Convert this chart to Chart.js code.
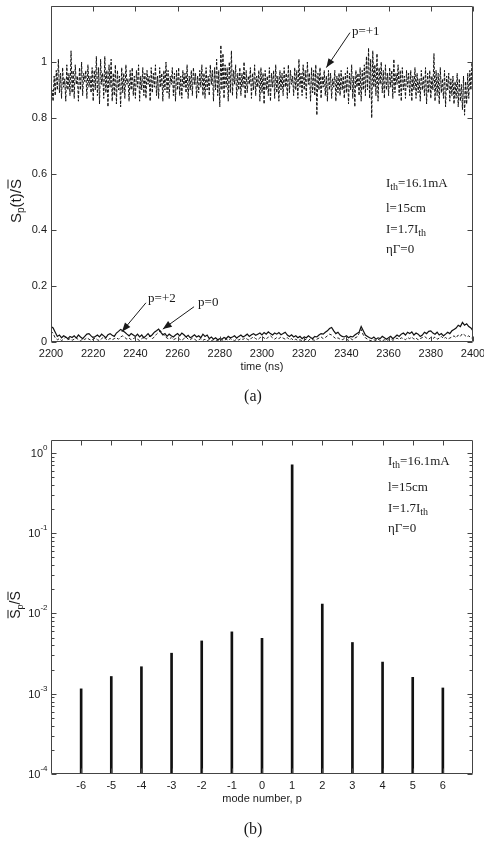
<!DOCTYPE html>
<html><head><meta charset="utf-8">
<script src="https://cdn.jsdelivr.net/npm/chart.js@4/dist/chart.umd.min.js"></script>
<style>
html,body{margin:0;padding:0;background:#fff;width:484px;height:846px;overflow:hidden}
#wa{position:absolute;left:0;top:0;width:484px;height:410px}
#wb{position:absolute;left:0;top:400px;width:484px;height:446px}
</style></head><body>
<div id="wa"><canvas id="ca"></canvas></div>
<div id="wb"><canvas id="cb"></canvas></div>
<script>
// ---------- DATA: panel (a) ----------
const timeStart = 2200;
const stepP1 = 0.5;   // ns between samples of mode p=+1
const stepLow = 1;    // ns between samples of modes p=+2 and p=0
const modeP1 = [
0.83,0.90,0.86,0.95,0.88,0.97,0.90,1.01,0.89,0.96,0.87,0.98,0.91,0.94,0.86,0.99,0.90,0.96,0.88,1.04,
0.89,0.97,0.87,0.99,0.92,0.95,0.86,0.98,0.90,1.00,0.88,0.96,0.93,0.97,0.87,0.99,0.91,0.95,0.89,0.98,
0.86,0.97,0.90,1.02,0.88,0.98,0.85,1.01,0.92,0.96,0.87,1.02,0.89,0.97,0.84,0.99,0.91,1.01,0.86,0.96,
0.88,0.99,0.85,0.97,0.90,0.95,0.84,0.98,0.89,0.96,0.87,0.99,0.92,0.94,0.86,0.97,0.90,0.98,0.88,0.95,
0.87,0.97,0.91,0.99,0.86,0.95,0.90,0.98,0.88,0.96,0.87,0.97,0.92,0.95,0.86,0.98,0.89,0.96,0.91,0.99,
0.88,0.95,0.87,0.98,0.91,0.96,0.86,0.97,0.90,1.00,0.89,0.97,0.87,0.95,0.92,0.98,0.88,0.96,0.86,0.97,
0.90,0.98,0.88,0.95,0.87,0.97,0.91,0.96,0.89,0.99,0.87,0.95,0.90,0.97,0.88,0.98,0.92,0.96,0.87,0.95,
0.89,0.97,0.91,0.99,0.88,0.96,0.87,0.98,0.90,0.95,0.88,0.99,0.92,0.97,0.86,0.98,0.90,1.01,0.88,0.97,
0.84,1.06,0.90,1.03,0.87,0.99,0.91,0.98,0.86,1.00,0.89,1.04,0.88,0.97,0.92,0.99,0.87,0.96,0.90,0.98,
0.88,0.96,0.91,1.00,0.87,0.97,0.89,0.95,0.92,0.98,0.87,0.96,0.90,0.99,0.88,0.95,0.91,0.97,0.86,0.98,
0.89,0.96,0.85,0.97,0.90,0.95,0.88,0.98,0.86,0.96,0.91,0.97,0.87,0.99,0.89,0.95,0.86,0.97,0.90,0.96,
0.88,0.98,0.91,0.96,0.87,0.99,0.89,0.97,0.92,0.95,0.88,0.98,0.90,0.97,0.87,1.01,0.91,0.96,0.88,0.99,
0.90,0.97,0.87,1.00,0.92,0.96,0.86,0.98,0.89,0.97,0.88,0.99,0.81,0.96,0.90,0.98,0.87,0.95,0.91,0.97,
0.88,0.95,0.86,0.97,0.90,0.96,0.87,0.94,0.91,0.97,0.86,0.95,0.89,0.96,0.88,0.97,0.90,0.95,0.87,0.96,
0.89,0.98,0.85,0.96,0.90,0.99,0.87,0.95,0.84,0.97,0.91,0.96,0.88,0.98,0.86,0.97,0.90,0.99,0.88,1.02,
0.90,1.05,0.87,1.01,0.80,1.04,0.91,0.99,0.88,1.03,0.86,0.98,0.92,1.00,0.89,0.97,0.87,0.99,0.90,0.96,
0.88,0.98,0.91,0.97,0.87,1.01,0.89,0.96,0.92,0.99,0.88,0.97,0.86,0.98,0.90,0.95,0.87,0.97,0.91,0.96,
0.88,0.97,0.86,0.95,0.90,0.98,0.87,0.96,0.89,0.94,0.86,0.97,0.90,0.95,0.88,0.98,0.85,0.96,0.89,0.97,
0.87,0.95,0.90,1.03,0.86,0.97,0.88,0.96,0.85,0.98,0.89,0.94,0.87,0.97,0.84,0.95,0.90,0.96,0.86,0.94,
0.88,0.95,0.85,0.93,0.87,0.96,0.84,0.94,0.86,0.92,0.83,0.95,0.81,0.93,0.85,0.96,0.87,0.97,0.90,1.00,
0.95];
const modeP2 = [
.055,.050,.035,.020,.025,.015,.022,.018,.012,.020,
.016,.022,.014,.025,.018,.012,.020,.028,.030,.022,
.015,.020,.025,.018,.028,.022,.015,.026,.030,.024,
.020,.032,.038,.045,.040,.035,.028,.022,.030,.025,
.020,.028,.018,.025,.015,.022,.030,.020,.026,.035,
.040,.046,.035,.025,.030,.020,.028,.022,.018,.025,
.030,.022,.032,.026,.018,.024,.015,.020,.026,.018,
.022,.015,.028,.020,.025,.012,.018,.010,.015,.008,
.012,.010,.016,.012,.020,.015,.018,.022,.014,.020,
.025,.018,.022,.028,.020,.026,.030,.024,.028,.032,
.025,.034,.028,.036,.030,.025,.032,.028,.034,.026,
.030,.035,.025,.020,.026,.018,.022,.015,.020,.012,
.018,.015,.022,.016,.012,.020,.018,.025,.030,.028,
.035,.040,.048,.052,.040,.030,.035,.025,.020,.018,
.022,.015,.020,.018,.025,.030,.035,.055,.040,.025,
.020,.015,.012,.018,.010,.015,.012,.020,.015,.010,
.015,.020,.012,.018,.025,.020,.028,.032,.025,.035,
.030,.036,.025,.032,.028,.020,.025,.035,.030,.038,
.040,.032,.028,.035,.025,.030,.022,.028,.035,.030,
.040,.045,.050,.060,.055,.070,.060,.065,.055,.050,
.040];
const modeP0 = [
.040,.030,.015,.008,.012,.005,.010,.018,.008,.012,
.006,.010,.015,.008,.004,.012,.009,.015,.010,.006,
.010,.014,.008,.005,.012,.018,.010,.007,.013,.008,
.012,.015,.010,.018,.022,.016,.010,.014,.008,.012,
.016,.010,.005,.012,.018,.010,.015,.022,.012,.018,
.028,.035,.040,.030,.020,.014,.010,.016,.008,.012,
.015,.010,.006,.012,.018,.010,.008,.014,.010,.005,
.008,.012,.006,.010,.004,.009,.005,.008,.003,.006,
.004,.008,.005,.010,.006,.012,.008,.005,.010,.007,
.012,.009,.015,.010,.006,.014,.018,.012,.008,.015,
.020,.014,.010,.018,.022,.015,.010,.016,.012,.018,
.014,.010,.016,.008,.012,.006,.010,.005,.008,.004,
.007,.010,.005,.012,.008,.006,.010,.014,.018,.012,
.016,.022,.028,.025,.018,.012,.015,.010,.008,.012,
.010,.006,.012,.008,.014,.018,.030,.045,.025,.015,
.010,.006,.004,.008,.005,.010,.006,.004,.008,.005,
.008,.012,.006,.010,.014,.009,.015,.012,.008,.016,
.012,.018,.010,.014,.008,.012,.016,.020,.014,.010,
.016,.012,.018,.010,.014,.020,.012,.016,.010,.014,
.018,.022,.015,.025,.020,.030,.025,.018,.022,.015,
.012];
const timeTicks = [2200,2220,2240,2260,2280,2300,2320,2340,2360,2380,2400];
const powerTicksA = [0,0.2,0.4,0.6,0.8,1];

// ---------- DATA: panel (b) ----------
const modeNumbers = [-6,-5,-4,-3,-2,-1,0,1,2,3,4,5,6];
const meanPower = [1.15e-3,1.64e-3,2.17e-3,3.2e-3,4.55e-3,5.9e-3,4.9e-3,0.71,1.31e-2,4.35e-3,2.48e-3,1.6e-3,1.18e-3];
const decadeTicks = [1e-4,1e-3,1e-2,1e-1,1];
const decadeExps = ['-4','-3','-2','-1','0'];

// ---------- helpers ----------
const SANS = "'Liberation Sans', Arial, sans-serif";
const SERIF = "'Liberation Serif', 'Times New Roman', serif";
const INK = '#1a1a1a';

function noPad(s){ s.paddingLeft = 0; s.paddingRight = 0; s.paddingTop = 0; s.paddingBottom = 0; }

function drawFrame(chart, minorLog){
  const ctx = chart.ctx, a = chart.chartArea, xs = chart.scales.x, ys = chart.scales.y;
  ctx.save();
  ctx.strokeStyle = '#444'; ctx.lineWidth = 1;
  const L = Math.round(a.left)+0.5, R = Math.round(a.right)-0.5, T = Math.round(a.top)+0.5, B = Math.round(a.bottom)-0.5;
  ctx.beginPath(); ctx.rect(L, T, R-L, B-T); ctx.stroke();
  ctx.beginPath();
  xs.ticks.forEach(t => { const x = Math.round(xs.getPixelForValue(t.value))+0.5;
    ctx.moveTo(x,B); ctx.lineTo(x,B-5); ctx.moveTo(x,T); ctx.lineTo(x,T+5); });
  ys.ticks.forEach(t => { const y = Math.round(ys.getPixelForValue(t.value))+0.5;
    ctx.moveTo(L,y); ctx.lineTo(L+5,y); ctx.moveTo(R,y); ctx.lineTo(R-5,y); });
  if (minorLog){
    for (let d=-4; d<0; d++) for (let k=2; k<10; k++){
      const y = Math.round(ys.getPixelForValue(k*Math.pow(10,d)))+0.5;
      ctx.moveTo(L,y); ctx.lineTo(L+3,y); ctx.moveTo(R,y); ctx.lineTo(R-3,y);
    }
  }
  ctx.stroke();
  ctx.restore();
}

// draws a text run made of parts {t, f(font), dy, over}
function drawRun(ctx, x, y, parts){
  let cx = x;
  parts.forEach(p => {
    ctx.font = p.f;
    const w = ctx.measureText(p.t).width;
    ctx.fillText(p.t, cx, y + (p.dy||0));
    if (p.over){
      ctx.save(); ctx.lineWidth = 1; ctx.strokeStyle = ctx.fillStyle;
      ctx.beginPath(); ctx.moveTo(cx+0.5, y-p.over); ctx.lineTo(cx+w-0.5, y-p.over); ctx.stroke(); ctx.restore();
    }
    cx += w;
  });
  return cx - x;
}
function runWidth(ctx, parts){ let w=0; parts.forEach(p=>{ctx.font=p.f; w+=ctx.measureText(p.t).width;}); return w; }

function drawParams(ctx, x, baselines){
  const big = "13px "+SERIF, sub = "10px "+SERIF;
  ctx.fillStyle = INK; ctx.textBaseline = 'alphabetic'; ctx.textAlign = 'left';
  drawRun(ctx, x, baselines[0], [{t:'I',f:big},{t:'th',f:sub,dy:3},{t:'=16.1mA',f:big}]);
  drawRun(ctx, x, baselines[1], [{t:'l=15cm',f:big}]);
  drawRun(ctx, x, baselines[2], [{t:'I=1.7I',f:big},{t:'th',f:sub,dy:3}]);
  drawRun(ctx, x, baselines[3], [{t:'ηΓ=0',f:big}]);
}

function arrow(ctx, x1,y1,x2,y2){
  ctx.save(); ctx.strokeStyle = INK; ctx.fillStyle = INK; ctx.lineWidth = 1;
  ctx.beginPath(); ctx.moveTo(x1,y1); ctx.lineTo(x2,y2); ctx.stroke();
  const ang = Math.atan2(y2-y1, x2-x1), len = 9, wid = 3.5;
  const bx = x2 - len*Math.cos(ang), by = y2 - len*Math.sin(ang);
  ctx.beginPath(); ctx.moveTo(x2,y2);
  ctx.lineTo(bx + wid*Math.sin(ang), by - wid*Math.cos(ang));
  ctx.lineTo(bx - wid*Math.sin(ang), by + wid*Math.cos(ang));
  ctx.closePath(); ctx.fill(); ctx.restore();
}

// annotations of panel (a), positioned in data units
const labelsA = [
  {text:'p=+1', tx:2342.6, ty:1.095, fromX:2341.7, fromY:1.105, toX:2330.5, toY:0.98},
  {text:'p=+2', tx:2246.0, ty:0.144, fromX:2245.0, fromY:0.140, toX:2233.6, toY:0.037},
  {text:'p=0',  tx:2269.7, ty:0.129, fromX:2267.8, fromY:0.126, toX:2253.0, toY:0.046}
];

const pluginA = {
  id:'decorA',
  afterDatasetsDraw(chart){
    const ctx = chart.ctx, xs = chart.scales.x, ys = chart.scales.y, a = chart.chartArea;
    drawFrame(chart, false);
    ctx.save();
    ctx.fillStyle = INK; ctx.textBaseline = 'alphabetic'; ctx.textAlign='left';
    labelsA.forEach(l => {
      arrow(ctx, xs.getPixelForValue(l.fromX), ys.getPixelForValue(l.fromY), xs.getPixelForValue(l.toX), ys.getPixelForValue(l.toY));
      ctx.font = "13px "+SERIF; ctx.fillStyle = INK;
      ctx.fillText(l.text, xs.getPixelForValue(l.tx), ys.getPixelForValue(l.ty));
    });
    drawParams(ctx, 386, [187, 212, 233, 253]);
    ctx.font = "11px "+SANS; ctx.textAlign='center'; ctx.textBaseline='middle';
    ctx.fillText('time (ns)', (a.left+a.right)/2, 367);
    ctx.font = "16px "+SERIF;
    ctx.fillText('(a)', 253, 397);
    ctx.translate(16, 201); ctx.rotate(-Math.PI/2);
    ctx.textAlign='left'; ctx.textBaseline='alphabetic';
    const parts = [{t:'S',f:"15px "+SANS},{t:'p',f:"10px "+SANS,dy:3},{t:'(t)/',f:"15px "+SANS},{t:'S',f:"15px "+SANS,over:13}];
    const w = runWidth(ctx, parts);
    drawRun(ctx, -w/2, 5, parts);
    ctx.restore();
  }
};

const pluginB = {
  id:'decorB',
  afterDatasetsDraw(chart){
    const ctx = chart.ctx, ys = chart.scales.y, a = chart.chartArea;
    drawFrame(chart, true);
    ctx.save();
    ctx.fillStyle = INK;
    decadeTicks.forEach((v,i) => {
      const y = ys.getPixelForValue(v);
      ctx.textBaseline='alphabetic'; ctx.textAlign='left';
      ctx.font = "8px "+SANS; const we = ctx.measureText(decadeExps[i]).width;
      ctx.font = "11px "+SANS; const wb = ctx.measureText('10').width;
      const xEnd = 47.5;
      ctx.fillText('10', xEnd - we - wb, y + 4);
      ctx.font = "8px "+SANS;
      ctx.fillText(decadeExps[i], xEnd - we, y - 3);
    });
    drawParams(ctx, 388, [65, 91, 112, 132]);
    ctx.font = "11px "+SANS; ctx.textAlign='center'; ctx.textBaseline='middle';
    ctx.fillText('mode number, p', (a.left+a.right)/2, 399);
    ctx.font = "16px "+SERIF;
    ctx.fillText('(b)', 253, 430);
    ctx.translate(15, 205); ctx.rotate(-Math.PI/2);
    ctx.textAlign='left'; ctx.textBaseline='alphabetic';
    const parts = [{t:'S',f:"14px "+SANS,over:12},{t:'p',f:"9px "+SANS,dy:3},{t:'/',f:"14px "+SANS},{t:'S',f:"14px "+SANS,over:12}];
    const w = runWidth(ctx, parts);
    drawRun(ctx, -w/2, 5, parts);
    ctx.restore();
  }
};

Chart.defaults.font.family = SANS;
Chart.defaults.color = INK;

new Chart(document.getElementById('ca'), {
  type:'line',
  data:{ datasets:[
    {label:'p=+1', data: modeP1.map((v,i)=>({x: timeStart + i*stepP1, y: v})), borderColor:'#111', borderWidth:1, borderDash:[3,1.5], pointRadius:0, tension:0},
    {label:'p=+2', data: modeP2.map((v,i)=>({x: timeStart + i*stepLow, y: v})), borderColor:'#111', borderWidth:1.2, pointRadius:0, tension:0},
    {label:'p=0',  data: modeP0.map((v,i)=>({x: timeStart + i*stepLow, y: v})), borderColor:'#222', borderWidth:1, borderDash:[3,2], pointRadius:0, tension:0}
  ]},
  options:{
    responsive:true, maintainAspectRatio:false, animation:false, devicePixelRatio:1,
    layout:{padding:{left:0,right:11,top:6,bottom:0}},
    plugins:{legend:{display:false}, tooltip:{enabled:false}},
    scales:{
      x:{type:'linear', min:2200, max:2400,
         afterBuildTicks(s){ s.ticks = timeTicks.map(v=>({value:v})); },
         afterFit(s){ s.height = 68; noPad(s); },
         grid:{display:false, drawTicks:false}, border:{display:false},
         ticks:{autoSkip:false, maxRotation:0, padding:5, font:{size:11}, color:INK, callback:v=>String(v)}},
      y:{type:'linear', min:0, max:1.2,
         afterBuildTicks(s){ s.ticks = powerTicksA.map(v=>({value:v})); },
         afterFit(s){ s.width = 51; noPad(s); },
         grid:{display:false, drawTicks:false}, border:{display:false},
         ticks:{padding:4, font:{size:11}, color:INK, callback:v=>String(Math.round(v*10)/10)}}
    }
  },
  plugins:[pluginA]
});

new Chart(document.getElementById('cb'), {
  type:'bar',
  data:{ datasets:[
    {label:'mean power', data: modeNumbers.map((p,i)=>({x:p, y:meanPower[i]})), backgroundColor:'#111', borderWidth:0, barThickness:2}
  ]},
  options:{
    responsive:true, maintainAspectRatio:false, animation:false, devicePixelRatio:1,
    layout:{padding:{left:0,right:11,top:40,bottom:0}},
    plugins:{legend:{display:false}, tooltip:{enabled:false}},
    scales:{
      x:{type:'linear', min:-7, max:7, offset:false,
         afterBuildTicks(s){ s.ticks = modeNumbers.map(v=>({value:v})); },
         afterFit(s){ s.height = 72; noPad(s); },
         grid:{display:false, drawTicks:false}, border:{display:false},
         ticks:{autoSkip:false, maxRotation:0, padding:5, font:{size:11}, color:INK, callback:v=>String(v)}},
      y:{type:'logarithmic', min:1e-4, max:1.45,
         afterBuildTicks(s){ s.ticks = decadeTicks.map(v=>({value:v})); },
         afterFit(s){ s.width = 51; noPad(s); },
         grid:{display:false, drawTicks:false}, border:{display:false},
         ticks:{padding:4, font:{size:11}, callback:()=>''}}
    }
  },
  plugins:[pluginB]
});
</script>
</body></html>
